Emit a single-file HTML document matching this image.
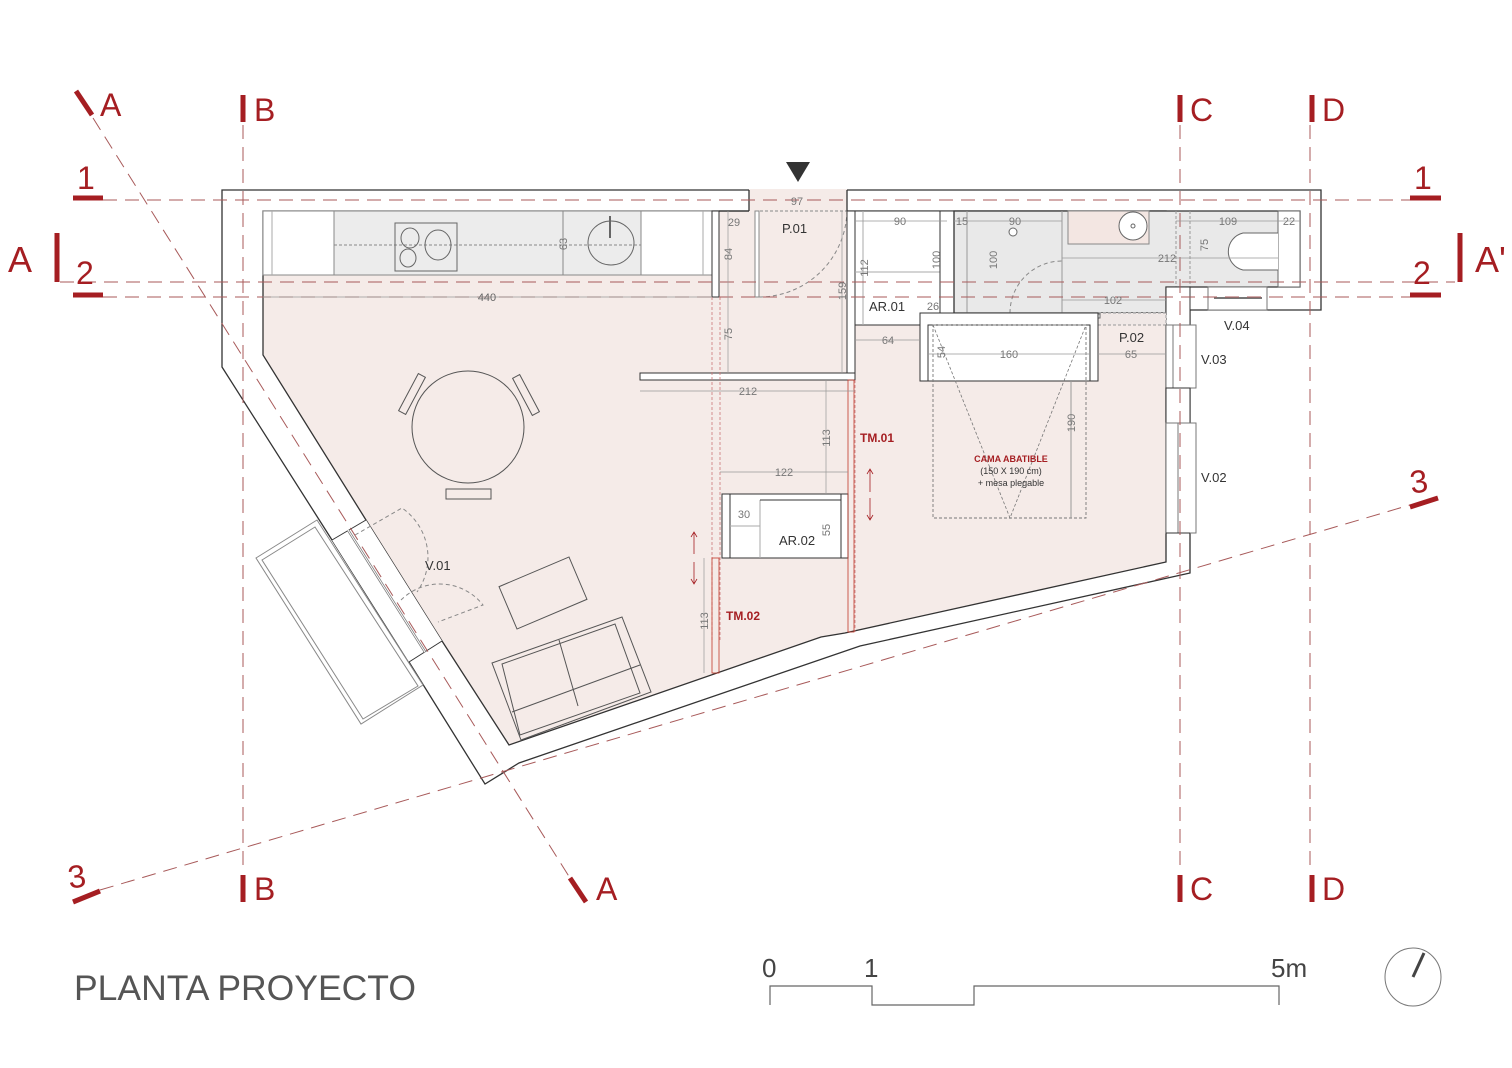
<!DOCTYPE html>
<html><head><meta charset="utf-8"><style>
html,body{margin:0;padding:0;background:#fff;}
svg{display:block;}
text{font-family:"Liberation Sans",Arial,sans-serif;}
.d{font-size:11px;fill:#777;}
.l{font-size:13px;fill:#333;}
.r{fill:#a51e22;}
</style></head><body>
<svg width="1512" height="1068" viewBox="0 0 1512 1068" xmlns="http://www.w3.org/2000/svg">
<rect width="1512" height="1068" fill="#fff"/>

<polygon points="222,190 1321,190 1321,310 1190,310 1190,573 860,646 519,763 485,784 409,662 332,540 222,367" fill="#fff" stroke="#333" stroke-width="1.3"/>
<polygon points="263,211 1166,211 1166,562 845,633 821,637 509,745 442,641 366,520 263,355" fill="#f5ebe8" stroke="#333" stroke-width="1.3"/>
<rect x="749" y="189" width="98" height="23" fill="#f5ebe8"/>
<line x1="749" y1="190" x2="749" y2="211" stroke="#333" stroke-width="1.3"/>
<line x1="847" y1="190" x2="847" y2="211" stroke="#333" stroke-width="1.3"/>
<line x1="719" y1="211" x2="749" y2="211" stroke="#333" stroke-width="1.3"/>
<line x1="755" y1="211" x2="847" y2="211" stroke="#888" stroke-width="1" stroke-dasharray="3,2"/>

<rect x="263" y="211" width="449" height="64" fill="#fff" stroke="#888"/>
<rect x="334" y="211" width="307" height="64" fill="#ececec" stroke="#888"/>
<line x1="272" y1="211" x2="272" y2="275" stroke="#aaa"/>
<line x1="703" y1="211" x2="703" y2="275" stroke="#aaa"/>
<line x1="334" y1="245" x2="641" y2="245" stroke="#888" stroke-dasharray="3,2"/>
<rect x="395" y="223" width="62" height="48" fill="none" stroke="#666"/>
<ellipse cx="410" cy="238" rx="9" ry="10" fill="none" stroke="#666"/>
<ellipse cx="438" cy="245" rx="13" ry="15" fill="none" stroke="#666"/>
<ellipse cx="408" cy="258" rx="8" ry="9" fill="none" stroke="#666"/>
<ellipse cx="611" cy="243" rx="23" ry="22" fill="none" stroke="#666"/>
<line x1="610" y1="216" x2="610" y2="238" stroke="#666" stroke-width="2"/>
<line x1="563" y1="211" x2="563" y2="275" stroke="#888"/>

<rect x="712" y="211" width="7" height="86" fill="#fff" stroke="#333"/>
<rect x="755" y="211" width="4" height="86" fill="#fff" stroke="#888"/>
<path d="M759,297 A88,88 0 0 0 847,211" fill="none" stroke="#888" stroke-dasharray="4,3"/>
<rect x="847" y="211" width="8" height="169" fill="#fff" stroke="#333"/>
<rect x="640" y="373" width="215" height="7" fill="#fff" stroke="#333"/>

<rect x="855" y="211" width="92" height="114" fill="#fff" stroke="#333"/>
<line x1="863" y1="211" x2="863" y2="325" stroke="#aaa"/>
<line x1="855" y1="272" x2="940" y2="272" stroke="#aaa"/>
<rect x="940" y="211" width="14" height="102" fill="#fff" stroke="#333"/>
<polygon points="954,211 1300,211 1300,287 1166,287 1166,313 954,313" fill="#e9e9e9" stroke="#333" stroke-width="1.3"/>
<rect x="1068" y="211" width="81" height="33" fill="#f3e6e2" stroke="#888"/>
<circle cx="1133" cy="226" r="14" fill="#fff" stroke="#666"/>
<circle cx="1133" cy="226" r="2" fill="none" stroke="#666"/>
<circle cx="1013" cy="232" r="4" fill="#fff" stroke="#666"/>
<line x1="1062" y1="211" x2="1062" y2="313" stroke="#999"/>
<line x1="967" y1="211" x2="967" y2="313" stroke="#999"/>
<rect x="1278" y="211" width="22" height="76" fill="#fff" stroke="#666"/>
<path d="M1278,233 L1243,233 A19,19 0 0 0 1243,270 L1278,270" fill="#fff" stroke="#666"/>
<line x1="1176" y1="211" x2="1176" y2="287" stroke="#999" stroke-dasharray="3,2"/>
<line x1="1190" y1="211" x2="1190" y2="287" stroke="#999" stroke-dasharray="3,2"/>
<path d="M1010,313 A52,52 0 0 1 1062,261" fill="none" stroke="#888" stroke-dasharray="4,3"/>
<rect x="1166" y="287" width="24" height="38" fill="#fff" stroke="#333"/>
<rect x="1208" y="287" width="59" height="23" fill="#fff" stroke="#777"/>
<line x1="1214" y1="298" x2="1262" y2="298" stroke="#777" stroke-width="2"/>
<rect x="1098" y="313" width="68" height="12" fill="#f0e8e6" stroke="#999" stroke-dasharray="3,2"/>
<rect x="1034" y="314" width="66" height="4" fill="#fff" stroke="#666"/>

<polygon points="920,313 1098,313 1098,381 1090,381 1090,325 928,325 928,381 920,381" fill="#fff" stroke="#333"/>
<rect x="928" y="325" width="162" height="56" fill="#fff" stroke="#333"/>
<rect x="933" y="325" width="153" height="193" fill="none" stroke="#777" stroke-width="0.9" stroke-dasharray="3,2"/>
<polyline points="933,325 1010,518 1086,325" fill="none" stroke="#777" stroke-width="0.8" stroke-dasharray="3,2"/>
<line x1="1071" y1="381" x2="1071" y2="518" stroke="#999"/>

<rect x="1166" y="325" width="30" height="63" fill="#fff" stroke="#777"/>
<line x1="1173" y1="325" x2="1173" y2="388" stroke="#777"/>
<rect x="1166" y="388" width="24" height="35" fill="#fff" stroke="#333"/>
<rect x="1166" y="423" width="30" height="110" fill="#fff" stroke="#777"/>
<line x1="1178" y1="423" x2="1178" y2="533" stroke="#777"/>
<line x1="1166" y1="533" x2="1190" y2="533" stroke="#333"/>

<polygon points="332,540 366,520 442,641 409,662" fill="#fff" stroke="none"/>
<line x1="332" y1="540" x2="366" y2="520" stroke="#333"/>
<line x1="409" y1="662" x2="442" y2="641" stroke="#333"/>
<line x1="348" y1="530" x2="425" y2="652" stroke="#777" stroke-width="2.5"/>
<line x1="348" y1="530" x2="425" y2="652" stroke="#fff" stroke-width="1"/>
<polygon points="256,558 317,520 423,685 361,724" fill="#fff" stroke="#888"/>
<polygon points="262,560 315,527 418,686 363,719" fill="none" stroke="#888"/>
<path d="M355,535 L402,508 A60,60 0 0 1 417,592" fill="none" stroke="#888" stroke-dasharray="4,3"/>
<path d="M401,600 A55,55 0 0 1 483,605 L438,622" fill="none" stroke="#888" stroke-dasharray="4,3"/>

<rect x="722" y="494" width="126" height="64" fill="#fff" stroke="#333"/>
<rect x="722" y="494" width="8" height="64" fill="#fff" stroke="#333"/>
<rect x="841" y="494" width="7" height="64" fill="#fff" stroke="#333"/>
<line x1="760" y1="500" x2="760" y2="558" stroke="#aaa"/>
<line x1="730" y1="526" x2="760" y2="526" stroke="#aaa"/>
<line x1="760" y1="500" x2="841" y2="500" stroke="#333"/>

<g stroke="#c77" stroke-width="0.8" stroke-dasharray="3,2">
<line x1="712" y1="297" x2="712" y2="640"/><line x1="720" y1="297" x2="720" y2="640"/>
<line x1="855" y1="380" x2="855" y2="632"/>
</g>
<rect x="848" y="380" width="6" height="252" fill="none" stroke="#c0392b" stroke-width="0.8"/>
<rect x="712" y="558" width="7" height="115" fill="none" stroke="#c0392b" stroke-width="0.8"/>
<g stroke="#a51e22" stroke-width="0.8" fill="none">
<path d="M870,470 V492 M867,474 L870,469 L873,474 M870,498 V520 M867,515 L870,520 L873,515"/>
<path d="M694,532 V554 M691,537 L694,532 L697,537 M694,562 V584 M691,579 L694,584 L697,579"/>
</g>

<ellipse cx="468" cy="427" rx="56" ry="56" fill="none" stroke="#555"/>
<rect x="-4" y="-21" width="8" height="42" fill="none" stroke="#555" transform="translate(412,394) rotate(28)"/>
<rect x="-4" y="-21" width="8" height="42" fill="none" stroke="#555" transform="translate(526,395) rotate(-28)"/>
<rect x="446" y="489" width="45" height="10" fill="none" stroke="#555"/>
<rect x="-38" y="-23" width="76" height="46" fill="none" stroke="#555" transform="translate(543,593) rotate(-23)"/>
<polygon points="492,663 622,617 651,692 521,740" fill="none" stroke="#555"/>
<polygon points="502,664 615,624 640,693 520,735" fill="none" stroke="#555"/>
<line x1="559" y1="640" x2="578" y2="706" stroke="#555"/>
<line x1="512" y1="712" x2="640" y2="665" stroke="#555"/>

<g stroke="#a85a5a" stroke-width="1" stroke-dasharray="14,8" fill="none">
<line x1="103" y1="200" x2="1410" y2="200"/>
<line x1="60" y1="282" x2="1455" y2="282"/>
<line x1="103" y1="297" x2="1410" y2="297"/>
<line x1="243" y1="125" x2="243" y2="873"/>
<line x1="1180" y1="125" x2="1180" y2="873"/>
<line x1="1310" y1="125" x2="1310" y2="873"/>
<line x1="93" y1="118" x2="570" y2="878"/>
<line x1="100" y1="890" x2="1410" y2="505"/>
</g>

<g stroke="#a51e22" stroke-width="5" fill="none">
<line x1="76" y1="91" x2="92" y2="115"/>
<line x1="570" y1="878" x2="586" y2="902"/>
<line x1="243" y1="95" x2="243" y2="122"/>
<line x1="243" y1="875" x2="243" y2="902"/>
<line x1="1180" y1="95" x2="1180" y2="122"/>
<line x1="1180" y1="875" x2="1180" y2="902"/>
<line x1="1312" y1="95" x2="1312" y2="122"/>
<line x1="1312" y1="875" x2="1312" y2="902"/>
<line x1="73" y1="198" x2="103" y2="198"/>
<line x1="1410" y1="198" x2="1441" y2="198"/>
<line x1="73" y1="295" x2="103" y2="295"/>
<line x1="1410" y1="295" x2="1441" y2="295"/>
<line x1="57" y1="233" x2="57" y2="282"/>
<line x1="1460" y1="233" x2="1460" y2="282"/>
<line x1="73" y1="902" x2="100" y2="891"/>
<line x1="1410" y1="507" x2="1438" y2="498"/>
</g>
<g class="r" font-size="32">
<text x="100" y="116">A</text>
<text x="596" y="900">A</text>
<text x="254" y="121">B</text><text x="254" y="900">B</text>
<text x="1190" y="121">C</text><text x="1190" y="900">C</text>
<text x="1322" y="121">D</text><text x="1322" y="900">D</text>
<text x="77" y="189">1</text><text x="1414" y="189">1</text>
<text x="76" y="284">2</text><text x="1413" y="284">2</text>
<text x="8" y="272" font-size="36">A</text>
<text x="1475" y="272" font-size="36">A'</text>
<text x="68" y="887" transform="rotate(-8 80 877)">3</text>
<text x="1410" y="492" transform="rotate(-8 1422 482)">3</text>
</g>

<polygon points="786,162 810,162 798,182" fill="#333"/>

<g stroke="#999" stroke-width="0.7">
<line x1="263" y1="297" x2="712" y2="297"/>
<line x1="640" y1="391" x2="855" y2="391"/>
<line x1="720" y1="472" x2="848" y2="472"/>
<line x1="728" y1="211" x2="728" y2="373"/>
<line x1="826" y1="380" x2="826" y2="494"/>
<line x1="842" y1="211" x2="842" y2="373"/>
<line x1="704" y1="558" x2="704" y2="673"/>
<line x1="855" y1="340" x2="920" y2="340"/>
<line x1="928" y1="354" x2="1090" y2="354"/>
<line x1="1098" y1="354" x2="1166" y2="354"/>
<line x1="1062" y1="300" x2="1166" y2="300"/>
<line x1="1062" y1="258" x2="1278" y2="258"/>
<line x1="855" y1="221" x2="947" y2="221"/>
<line x1="954" y1="221" x2="1062" y2="221"/>
<line x1="1176" y1="221" x2="1300" y2="221"/>
</g>

<g class="d" text-anchor="middle">
<text x="797" y="205">97</text>
<text x="734" y="226">29</text>
<text x="487" y="301" style="fill:#666">440</text>
<text x="748" y="395">212</text>
<text x="784" y="476">122</text>
<text x="744" y="518">30</text>
<text x="900" y="225">90</text>
<text x="962" y="225">15</text>
<text x="1015" y="225">90</text>
<text x="1228" y="225">109</text>
<text x="1289" y="225">22</text>
<text x="1167" y="262">212</text>
<text x="1113" y="304">102</text>
<text x="933" y="310">26</text>
<text x="888" y="344">64</text>
<text x="1009" y="358">160</text>
<text x="1131" y="358">65</text>
<text transform="translate(567,244) rotate(-90)">63</text>
<text transform="translate(732,254) rotate(-90)">84</text>
<text transform="translate(732,334) rotate(-90)">75</text>
<text transform="translate(846,291) rotate(-90)">159</text>
<text transform="translate(830,438) rotate(-90)">113</text>
<text transform="translate(830,530) rotate(-90)">55</text>
<text transform="translate(708,621) rotate(-90)">113</text>
<text transform="translate(868,268) rotate(-90)">112</text>
<text transform="translate(940,260) rotate(-90)">100</text>
<text transform="translate(997,260) rotate(-90)">100</text>
<text transform="translate(1208,245) rotate(-90)">75</text>
<text transform="translate(945,352) rotate(-90)">54</text>
<text transform="translate(1075,423) rotate(-90)">190</text>
</g>
<g class="l">
<text x="782" y="233">P.01</text>
<text x="779" y="545">AR.02</text>
<text x="869" y="311">AR.01</text>
<text x="1119" y="342">P.02</text>
<text x="1224" y="330">V.04</text>
<text x="1201" y="364">V.03</text>
<text x="1201" y="482">V.02</text>
<text x="425" y="570">V.01</text>
</g>
<g class="r" font-weight="bold" font-size="12">
<text x="860" y="442">TM.01</text>
<text x="726" y="620">TM.02</text>
</g>
<g text-anchor="middle">
<text x="1011" y="462" class="r" font-weight="bold" font-size="9">CAMA ABATIBLE</text>
<text x="1011" y="474" font-size="9" fill="#333">(150 X 190 cm)</text>
<text x="1011" y="486" font-size="9" fill="#333">+ mesa plegable</text>
</g>

<text x="74" y="1000" font-size="35.5" fill="#555">PLANTA PROYECTO</text>

<polyline points="770,1005 770,986 872,986 872,1005 974,1005 974,986 1279,986 1279,1005" fill="none" stroke="#666" stroke-width="1.2"/>
<g font-size="26" fill="#444">
<text x="762" y="977">0</text>
<text x="864" y="977">1</text>
<text x="1271" y="977">5m</text>
</g>
<ellipse cx="1413" cy="977" rx="28" ry="29" fill="none" stroke="#777"/>
<line x1="1413" y1="977" x2="1424" y2="953" stroke="#444" stroke-width="3"/>
</svg>
</body></html>
